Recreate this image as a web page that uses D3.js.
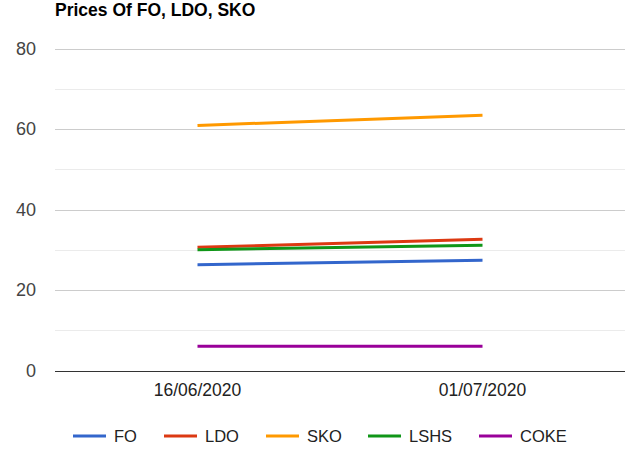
<!DOCTYPE html>
<html><head><meta charset="utf-8">
<script src="https://cdn.jsdelivr.net/npm/d3@7"></script>
<style>body{margin:0;background:#fff;} svg{display:block;font-family:Arial,"Liberation Sans",sans-serif;}</style>
</head><body>
<svg id="c" width="626" height="476"></svg>
<script>
const categories = ["16/06/2020", "01/07/2020"];
const seriesNames = ["FO", "LDO", "SKO", "LSHS", "COKE"];
const seriesColors = ["#3366cc", "#dc3912", "#ff9900", "#109618", "#990099"];
const FO = [26.3, 27.4];
const LDO = [30.6, 32.6];
const SKO = [60.9, 63.4];
const LSHS = [30.0, 31.1];
const COKE = [6.0, 6.0];
const yTicks = [0, 20, 40, 60, 80];
const yMinor = [10, 30, 50, 70];
const title = "Prices Of FO, LDO, SKO";

(function () {
const seriesValues = [FO, LDO, SKO, LSHS, COKE];
const svg = d3.select("#c");
const pL = 55, pR = 625, pT = 48.5, pB = 370.5;
const x = d3.scaleBand().domain(categories).range([pL, pR]);
const y = d3.scaleLinear().domain([0, 80]).range([pB, pT]);

svg.append("text").attr("x", 55).attr("y", 16).attr("font-weight", "bold")
  .attr("font-size", 17.5).attr("fill", "#000").text(title);

svg.append("g").selectAll("line").data(yMinor).join("line")
  .attr("x1", pL).attr("x2", pR).attr("y1", d => Math.round(y(d)) + 0.5).attr("y2", d => Math.round(y(d)) + 0.5)
  .attr("stroke", "#ebebeb").attr("stroke-width", 1);
svg.append("g").selectAll("line").data(yTicks.filter(d => d !== 0)).join("line")
  .attr("x1", pL).attr("x2", pR).attr("y1", d => Math.round(y(d)) + 0.5).attr("y2", d => Math.round(y(d)) + 0.5)
  .attr("stroke", "#cccccc").attr("stroke-width", 1);

svg.append("g").selectAll("text").data(yTicks).join("text")
  .attr("x", 36).attr("y", d => y(d) + 6).attr("text-anchor", "end")
  .attr("font-size", 18).attr("fill", "#444").text(d => d);

svg.append("g").selectAll("text").data(categories).join("text")
  .attr("x", d => x(d) + x.bandwidth() / 2).attr("y", 396).attr("text-anchor", "middle")
  .attr("font-size", 17.5).attr("fill", "#222").text(d => d);

const line = d3.line().x((d, i) => x(categories[i]) + x.bandwidth() / 2).y(d => y(d));
svg.append("g").selectAll("path").data(seriesValues).join("path")
  .attr("d", d => line(d)).attr("fill", "none")
  .attr("stroke", (d, i) => seriesColors[i]).attr("stroke-width", 3);

svg.append("line").attr("x1", pL).attr("x2", pR).attr("y1", Math.round(y(0)) + 0.5).attr("y2", Math.round(y(0)) + 0.5)
  .attr("stroke", "#333").attr("stroke-width", 1);

const legX = [73, 164, 266, 368, 479];
const lg = svg.append("g").selectAll("g").data(seriesNames).join("g")
  .attr("transform", (d, i) => `translate(${legX[i]},436)`);
lg.append("line").attr("x1", 0).attr("x2", 33).attr("y1", 0).attr("y2", 0)
  .attr("stroke", (d, i) => seriesColors[i]).attr("stroke-width", 3);
lg.append("text").attr("x", 41).attr("y", 6).attr("font-size", 16.5).attr("fill", "#222").text(d => d);
})();
</script>
</body></html>
